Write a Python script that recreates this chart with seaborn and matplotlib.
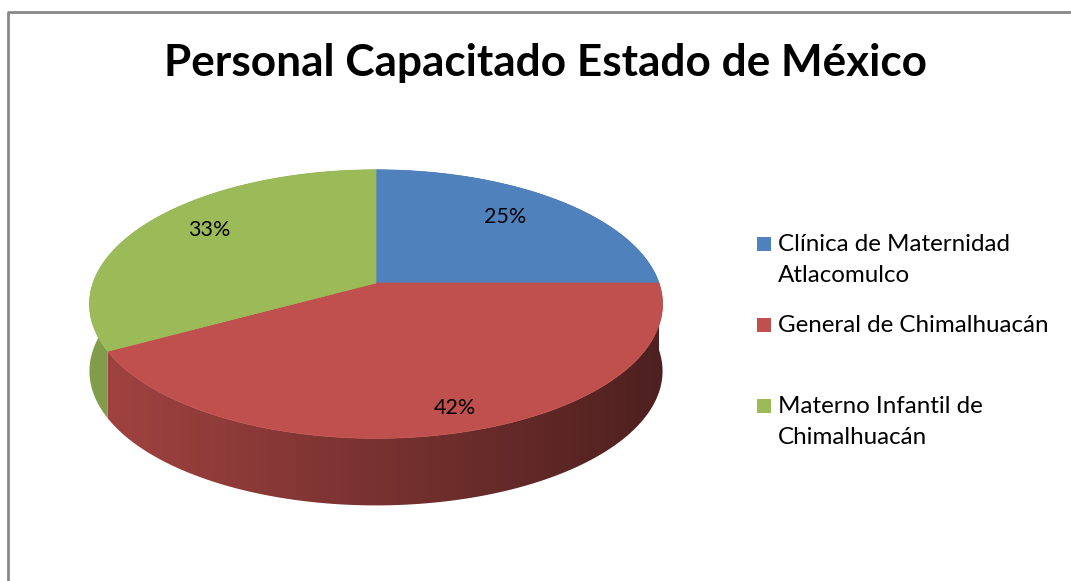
import numpy as np
import matplotlib
matplotlib.use("Agg")
import matplotlib.pyplot as plt
import seaborn as sns
from matplotlib.patches import Polygon, Rectangle

sns.set_theme(style="white")
plt.rcParams["font.family"] = ["Lato", "DejaVu Sans"]

# ===== 数据 =====
title = "Personal Capacitado Estado de México"
categories = ["Clínica de Maternidad\nAtlacomulco",
              "General de Chimalhuacán",
              "Materno Infantil de\nChimalhuacán"]
values = [25, 42, 33]
colors = ["#4f81bd", "#c0504d", "#9bbb59"]

# ===== 3D 饼图几何参数 (像素坐标) =====
W, H = 1071, 581
cx, cy = 376, 283       # 饼图中心
a, b = 283, 131          # 椭圆半轴
k = 0.157                # 透视系数
depth = 67               # 厚度


def proj(theta):
    c, s = np.cos(theta), np.sin(theta)
    f = 1 + k * s
    return cx + a * c / f, cy - b * s / f


fig = plt.figure(figsize=(W / 100, H / 100), dpi=100)
ax = fig.add_axes([0, 0, 1, 1])
ax.set_xlim(0, W)
ax.set_ylim(H, 0)
ax.axis("off")

# 扇区角度 (从 12 点方向顺时针)
fracs = np.array(values, dtype=float) / sum(values)
ends = np.pi / 2 - 2 * np.pi * np.cumsum(fracs)
starts = np.concatenate([[np.pi / 2], ends[:-1]])

# ===== 侧面 (水平渐变, 用裁剪的图像实现) =====
xmin, xmax = cx - a - 10, cx + a + 10
ramp = np.linspace(0.85, 0.40, 256)
for st, en, col in zip(starts, ends, colors):
    th = np.linspace(st, en, 400)
    top = np.array([proj(t) for t in th])
    bot = top + np.array([0, depth])
    side = Polygon(np.vstack([top, bot[::-1]]), closed=True,
                   facecolor="none", edgecolor="none")
    ax.add_patch(side)
    base = np.array(matplotlib.colors.to_rgb(col))
    img = np.clip(ramp[None, :, None] * base[None, None, :], 0, 1)
    im = ax.imshow(img, extent=(xmin, xmax, cy + 320, cy - 320),
                   aspect="auto", interpolation="bilinear", zorder=1)
    im.set_clip_path(side)

# ===== 顶面 =====
for st, en, col in zip(starts, ends, colors):
    th = np.linspace(st, en, 300)
    pts = [(cx, cy)] + [proj(t) for t in th]
    ax.add_patch(Polygon(pts, closed=True, facecolor=col, edgecolor=col,
                         lw=0.5, zorder=2))

ax.set_xlim(0, W)
ax.set_ylim(H, 0)

# ===== 百分比标签 =====
label_pos = [(505, 217), (455, 408), (209, 230)]
for v, (lx, ly) in zip(values, label_pos):
    ax.text(lx, ly, f"{v}%", ha="center", va="center", fontsize=15.5,
            color="black", zorder=3)

# ===== 标题 =====
ax.text(545, 63, title, ha="center", va="center", fontsize=31.8,
        fontweight="bold", color="black")

# ===== 图例 =====
leg_y = [244, 325, 406]
for lab, col, ly in zip(categories, colors, leg_y):
    ax.add_patch(Rectangle((757, ly - 7), 14, 14, facecolor=col, edgecolor="none"))
    ax.text(778, ly - 10, lab, ha="left", va="top", fontsize=17.4,
            color="black", linespacing=1.58)

# ===== 边框 =====
ax.plot([8, 8, W + 5], [H + 5, 12, 12], color="#888888", lw=2,
        solid_capstyle="butt")

fig.savefig("out.png", dpi=100, facecolor="white")
